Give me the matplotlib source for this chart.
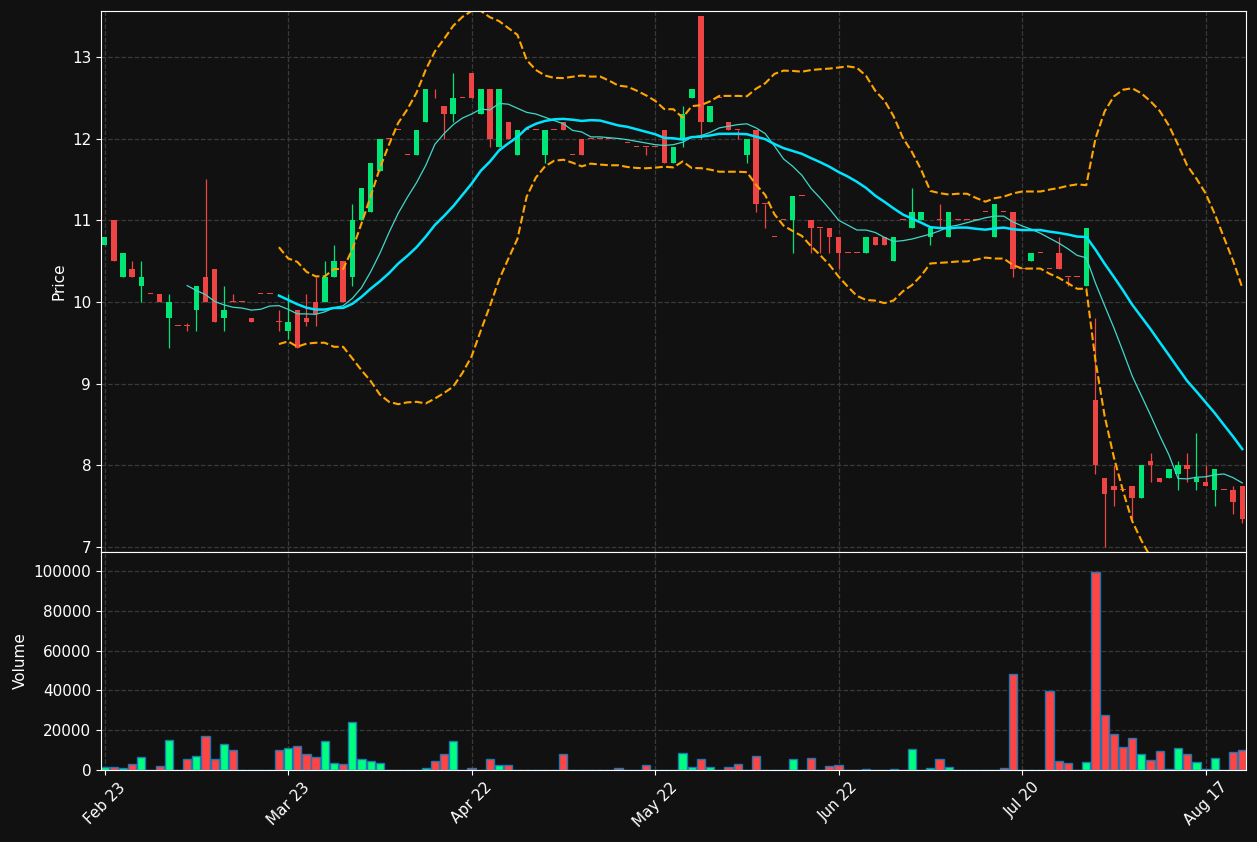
import matplotlib
matplotlib.use("Agg")
import matplotlib.pyplot as plt
import numpy as np
import pandas as pd

# daily bars (one entry per trading day)
opens = [10.7, 11.0, 10.3, 10.4, 10.2, 10.1, 10.1, 9.8, 9.7, 9.7,
         9.9, 10.3, 10.4, 9.8, 10.0, 10.0, 9.8, 10.1, 10.1, 9.75,
         9.65, 9.9, 9.8, 10.0, 10.0, 10.3, 10.5, 10.3, 11.0, 11.1,
         11.6, 12.0, 12.1, 11.8, 11.8, 12.2, 12.6, 12.4, 12.3, 12.5,
         12.8, 12.3, 12.6, 11.9, 12.2, 11.8, 12.1, 12.1, 11.8, 12.1,
         12.2, 11.8, 12.0, 12.0, 12.0, 12.0, 12.0, 11.95, 11.9, 11.9,
         11.9, 12.1, 11.7, 12.0, 12.5, 13.5, 12.2, 12.5, 12.2, 12.1,
         11.8, 12.1, 11.2, 10.8, 11.0, 11.0, 11.3, 11.0, 10.9, 10.9,
         10.8, 10.6, 10.6, 10.6, 10.8, 10.8, 10.5, 11.0, 10.9, 11.0,
         10.8, 11.0, 10.8, 11.0, 11.0, 11.0, 11.1, 10.8, 11.1, 11.1,
         10.4, 10.5, 10.6, 10.4, 10.6, 10.3, 10.3, 10.2, 8.8, 7.85,
         7.75, 7.7, 7.75, 7.6, 8.05, 7.85, 7.85, 7.9, 8.0, 7.8,
         7.8, 7.7, 7.7, 7.7, 7.75]
highs = [10.8, 11.0, 10.6, 10.5, 10.5, 10.1, 10.1, 10.1, 9.7, 9.74,
         10.2, 11.5, 10.4, 10.2, 10.1, 10.0, 9.8, 10.1, 10.1, 9.9,
         10.1, 9.9, 10.1, 10.3, 10.5, 10.7, 10.5, 11.2, 11.4, 11.7,
         12.0, 12.0, 12.1, 11.8, 12.1, 12.6, 12.6, 12.4, 12.8, 12.5,
         12.8, 12.6, 12.6, 12.6, 12.2, 12.1, 12.1, 12.1, 12.1, 12.1,
         12.2, 11.8, 12.0, 12.0, 12.0, 12.0, 12.0, 11.95, 11.9, 11.9,
         11.9, 12.1, 11.9, 12.4, 12.6, 13.5, 12.4, 12.5, 12.2, 12.1,
         12.0, 12.1, 11.2, 10.8, 11.0, 11.3, 11.3, 11.0, 10.9, 10.9,
         10.8, 10.6, 10.6, 10.8, 10.8, 10.8, 10.8, 11.0, 11.4, 11.1,
         10.9, 11.2, 11.1, 11.0, 11.0, 11.0, 11.1, 11.2, 11.1, 11.1,
         10.4, 10.6, 10.6, 10.4, 10.8, 10.3, 10.3, 10.9, 9.8, 7.85,
         8.0, 7.7, 7.75, 8.0, 8.15, 7.85, 7.95, 8.05, 8.15, 8.4,
         8.0, 7.95, 7.7, 7.75, 7.75]
lows = [10.7, 10.5, 10.3, 10.3, 10.0, 10.1, 10.0, 9.44, 9.7, 9.65,
        9.65, 10.0, 9.75, 9.65, 10.0, 10.0, 9.75, 10.1, 10.1, 9.65,
        9.55, 9.44, 9.7, 9.7, 10.0, 10.3, 10.0, 10.2, 11.0, 11.1,
        11.6, 12.0, 12.1, 11.8, 11.8, 12.2, 12.5, 12.0, 12.2, 12.5,
        12.5, 12.3, 11.9, 11.9, 12.0, 11.8, 12.1, 12.1, 11.7, 12.1,
        12.1, 11.8, 11.8, 12.0, 12.0, 12.0, 12.0, 11.95, 11.9, 11.8,
        11.9, 11.7, 11.7, 11.9, 12.5, 12.0, 12.2, 12.5, 12.1, 12.0,
        11.7, 11.1, 10.9, 10.8, 11.0, 10.6, 11.3, 10.6, 10.6, 10.6,
        10.4, 10.6, 10.6, 10.6, 10.7, 10.7, 10.5, 11.0, 10.9, 11.0,
        10.7, 10.9, 10.8, 11.0, 11.0, 11.0, 11.1, 10.8, 11.1, 10.3,
        10.4, 10.5, 10.6, 10.4, 10.4, 10.2, 10.3, 10.2, 7.9, 7.0,
        7.5, 7.7, 7.35, 7.6, 7.8, 7.8, 7.85, 7.7, 7.8, 7.7,
        7.75, 7.5, 7.7, 7.4, 7.3]
closes = [10.8, 10.5, 10.6, 10.3, 10.3, 10.1, 10.0, 10.0, 9.7, 9.7,
          10.2, 10.0, 9.75, 9.9, 10.0, 10.0, 9.75, 10.1, 10.1, 9.75,
          9.75, 9.44, 9.75, 9.85, 10.3, 10.5, 10.0, 11.0, 11.4, 11.7,
          12.0, 12.0, 12.1, 11.8, 12.1, 12.6, 12.6, 12.3, 12.5, 12.5,
          12.5, 12.6, 12.0, 12.6, 12.0, 12.1, 12.1, 12.1, 12.1, 12.1,
          12.1, 11.8, 11.8, 12.0, 12.0, 12.0, 12.0, 11.95, 11.9, 11.9,
          11.9, 11.7, 11.9, 12.3, 12.6, 12.2, 12.4, 12.5, 12.1, 12.1,
          12.0, 11.2, 11.2, 10.8, 11.0, 11.3, 11.3, 10.9, 10.9, 10.8,
          10.6, 10.6, 10.6, 10.8, 10.7, 10.7, 10.8, 11.0, 11.1, 11.1,
          10.9, 11.0, 11.1, 11.0, 11.0, 11.0, 11.1, 11.2, 11.1, 10.4,
          10.4, 10.6, 10.6, 10.4, 10.4, 10.3, 10.3, 10.9, 8.0, 7.65,
          7.7, 7.7, 7.6, 8.0, 8.0, 7.8, 7.95, 8.0, 7.95, 7.85,
          7.75, 7.95, 7.7, 7.55, 7.35]
volumes = [1400, 1400, 800, 3000, 6600, 0, 1900, 15300, 0, 5600,
           7100, 17300, 5600, 13200, 10200, 0, 0, 0, 0, 10200,
           11200, 12200, 8100, 6600, 14700, 3550, 3050, 23900, 5600, 4600,
           3550, 0, 0, 0, 0, 1000, 4600, 8100, 14700, 0,
           1000, 0, 5600, 2500, 2500, 0, 0, 0, 0, 0,
           8100, 0, 0, 0, 0, 0, 1000, 0, 0, 2500,
           0, 0, 0, 8650, 1350, 5600, 1350, 0, 1350, 3050,
           0, 7100, 0, 0, 0, 5600, 0, 6100, 0, 2000,
           2500, 0, 0, 500, 0, 0, 500, 0, 10700, 0,
           1000, 5600, 1350, 0, 0, 0, 0, 0, 800, 48300,
           0, 0, 0, 39600, 4400, 3400, 0, 3900, 99300, 27600,
           18000, 11400, 16000, 7900, 4900, 9400, 700, 10900, 7900, 3900,
           300, 5900, 0, 8900, 9900]

tick_pos = [0, 20, 40, 60, 80, 100, 120]
tick_labels = ['Feb 23', 'Mar 23', 'Apr 22', 'May 22', 'Jun 22', 'Jul 20', 'Aug 17']

bg = '#111111'
up_c, down_c = '#00e676', '#ef4444'
vol_up, vol_down = '#00ff7f', '#ff4444'

df = pd.DataFrame({'open': opens, 'high': highs, 'low': lows,
                   'close': closes, 'volume': volumes})
x = np.arange(len(df))
up = df['close'] > df['open']

# indicators from the closes
ma10 = df['close'].rolling(10).mean()
ma20 = df['close'].rolling(20).mean()
sd20 = df['close'].rolling(20).std(ddof=0)
bb_up = ma20 + 2 * sd20
bb_lo = ma20 - 2 * sd20

fig = plt.figure(figsize=(12.57, 8.42), dpi=100, facecolor=bg)
ax = fig.add_axes([0.0803, 0.3444, 0.9109, 0.6425])
axv = fig.add_axes([0.0803, 0.0855, 0.9109, 0.2589], sharex=ax)

for a in (ax, axv):
    a.set_facecolor(bg)
    a.grid(True, color='#3a3a3a', linestyle='--', linewidth=0.9)
    a.set_axisbelow(True)
    for s in a.spines.values():
        s.set_color('white')
    a.tick_params(colors='white', labelsize=11)

# candles
cols = np.where(up, up_c, down_c)
ax.vlines(x, df['low'], df['high'], colors=cols, linewidth=0.9)
body = np.maximum((df['close'] - df['open']).abs(), 0.012)
ax.bar(x, body, bottom=np.minimum(df['open'], df['close']), width=0.6,
       color=cols, linewidth=0)

ax.plot(x, ma10, color='#40d8c8', linewidth=0.9)
ax.plot(x, ma20, color='#00e5ff', linewidth=1.8)
ax.plot(x, bb_up, color='#ffa500', linestyle='--', linewidth=1.5)
ax.plot(x, bb_lo, color='#ffa500', linestyle='--', linewidth=1.5)

ax.set_ylim(6.94, 13.56)
ax.set_xlim(-0.4, 124.4)
ax.set_ylabel('Price', color='white', fontsize=11)
ax.tick_params(axis='x', labelbottom=False)

# volume
vcols = np.where(up, vol_up, vol_down)
axv.bar(x, df['volume'], width=0.9, color=vcols, edgecolor='#1f77b4',
        linewidth=1)
axv.set_ylim(0, 109500)
axv.set_yticks([0, 20000, 40000, 60000, 80000, 100000])
axv.set_ylabel('Volume', color='white', fontsize=11)
axv.set_xticks(tick_pos)
axv.set_xticklabels(tick_labels, rotation=45)

plt.savefig('out.png', facecolor=bg)
